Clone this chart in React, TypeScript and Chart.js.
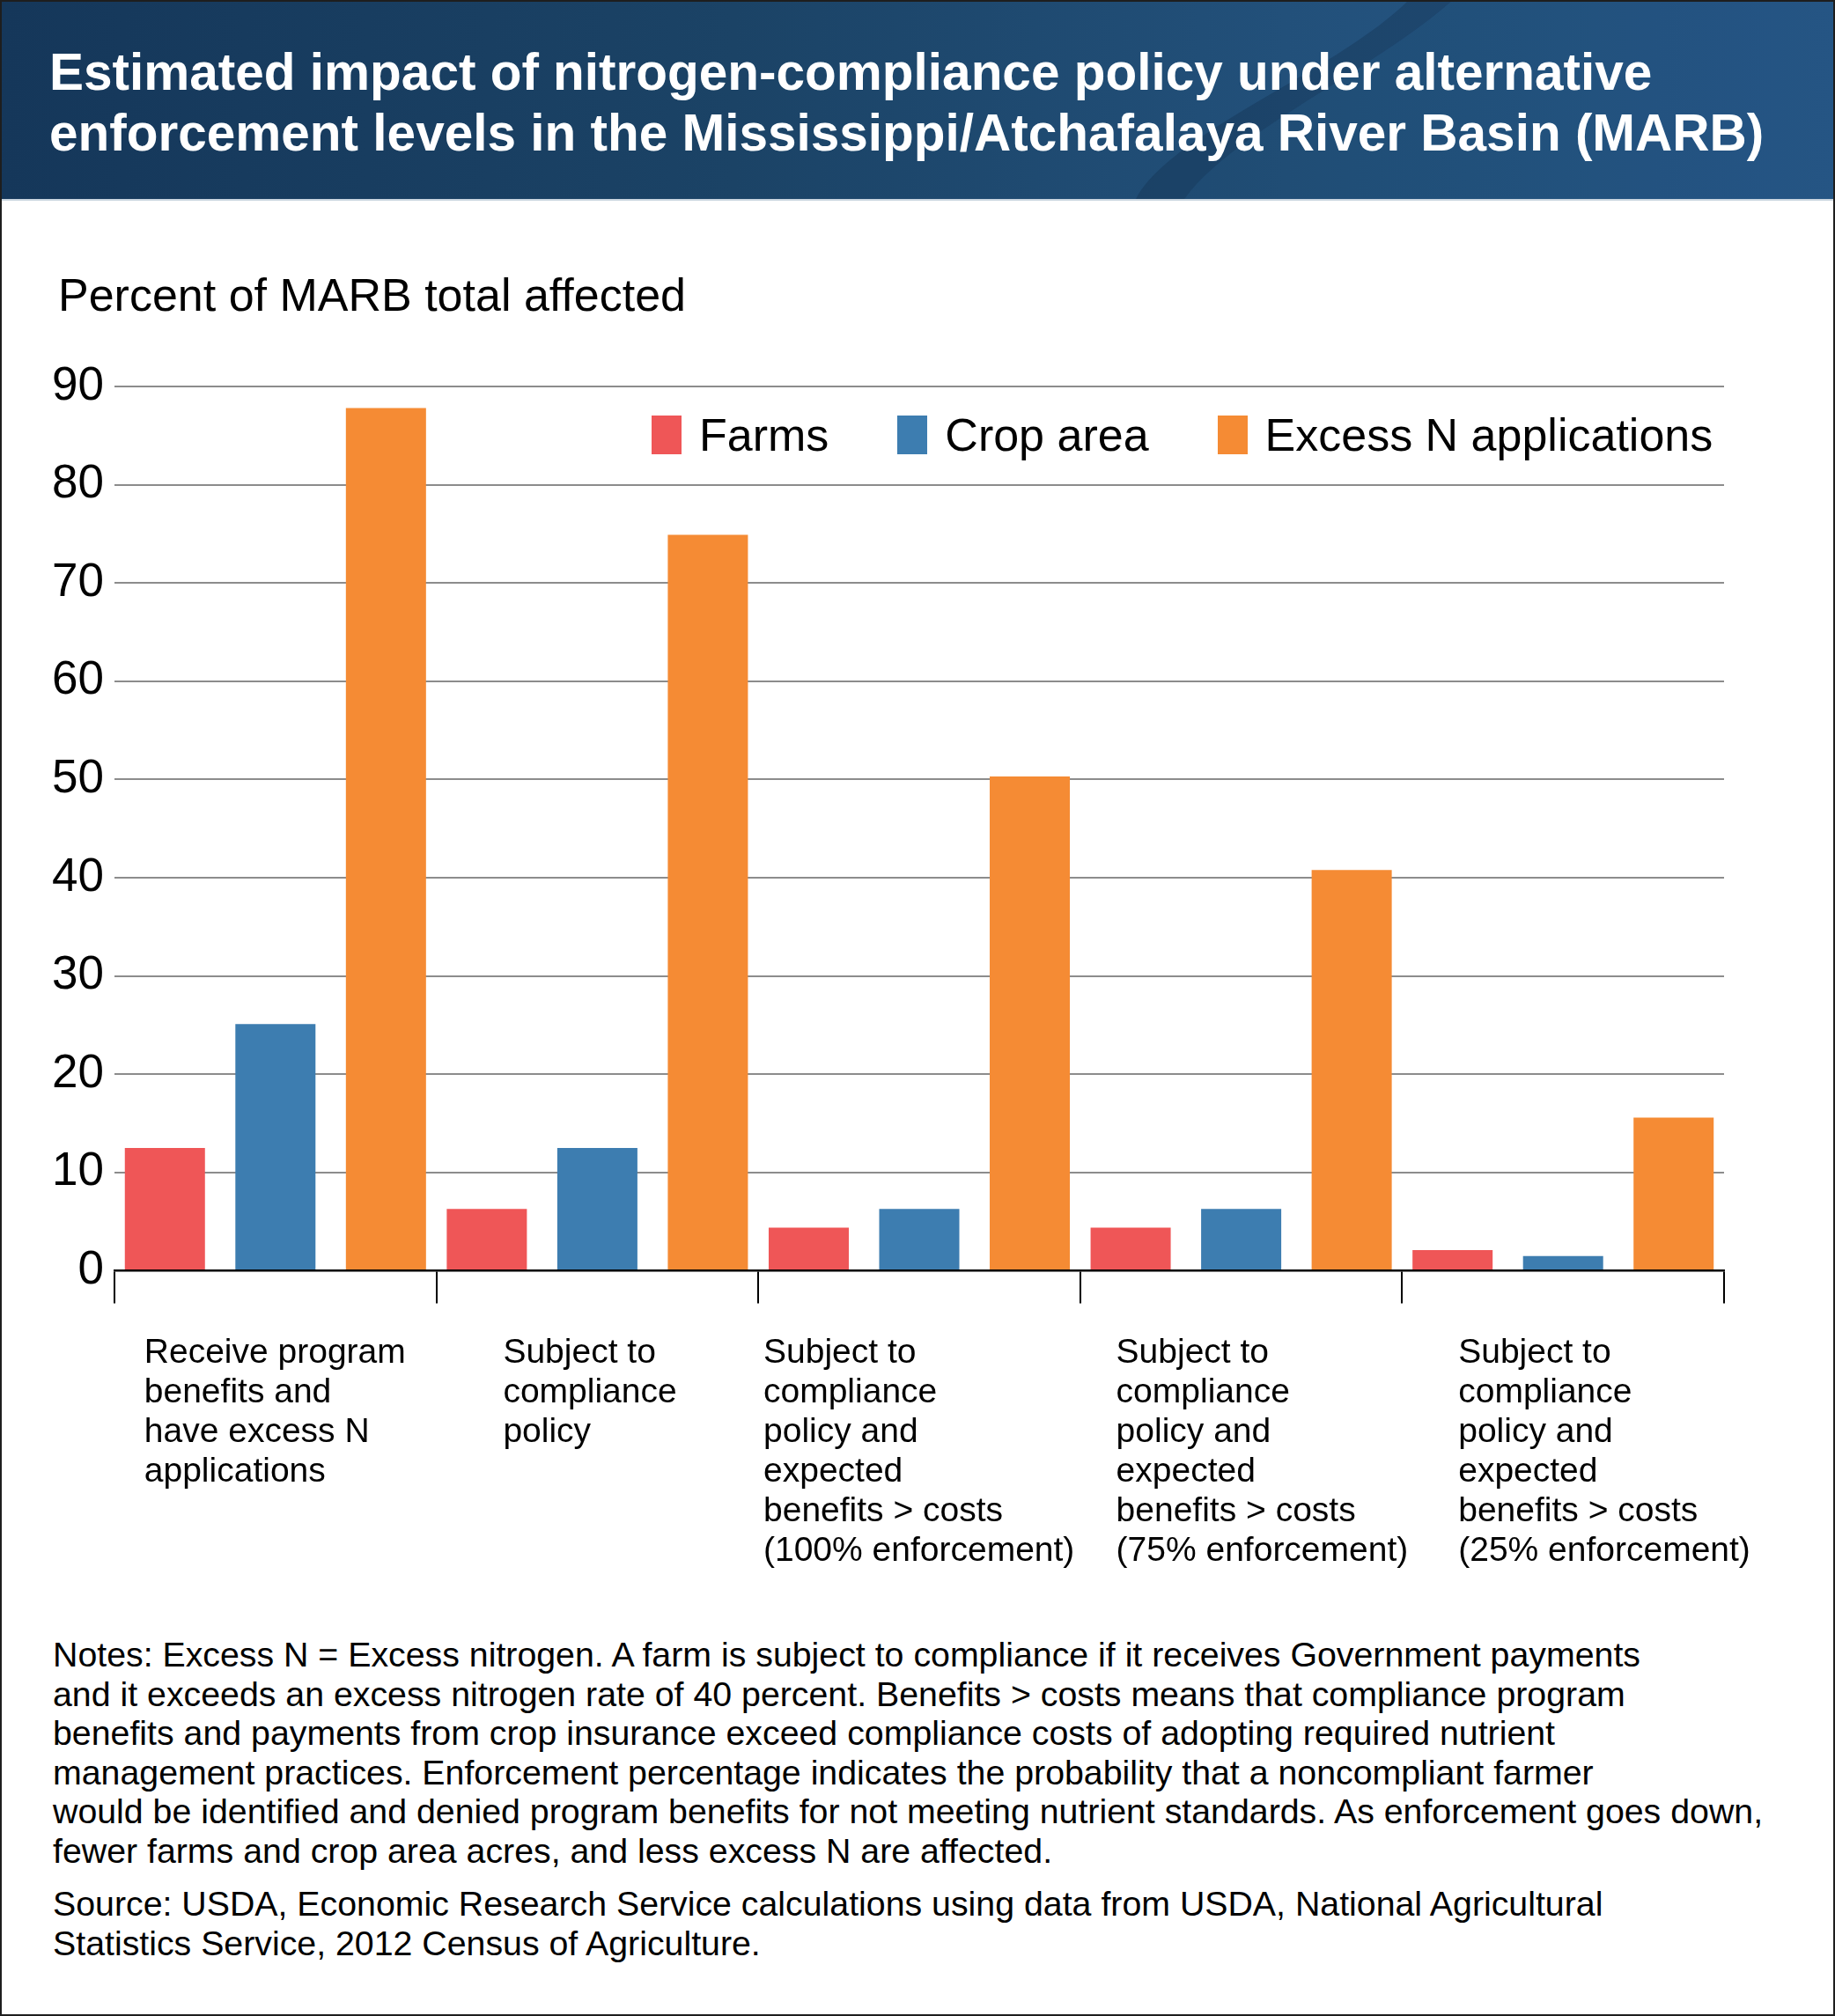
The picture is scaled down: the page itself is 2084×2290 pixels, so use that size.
import { useEffect, useRef } from "react"
import { Chart, registerables } from "chart.js"

Chart.register(...registerables)

// categories (multi-line x labels)
const categories = [
  ["Receive program", "benefits and", "have excess N", "applications"],
  ["Subject to", "compliance", "policy"],
  ["Subject to", "compliance", "policy and", "expected", "benefits > costs", "(100% enforcement)"],
  ["Subject to", "compliance", "policy and", "expected", "benefits > costs", "(75% enforcement)"],
  ["Subject to", "compliance", "policy and", "expected", "benefits > costs", "(25% enforcement)"],
]

const farms = [12.5, 6.3, 4.4, 4.4, 2.1]
const cropArea = [25.1, 12.5, 6.3, 6.3, 1.5]
const excessN = [87.8, 74.9, 50.3, 40.8, 15.6]

const seriesNames = ["Farms", "Crop area", "Excess N applications"]
const seriesColors = ["#ef5657", "#3d7db0", "#f58b34"]

const yMin = 0
const yMax = 90
const yStep = 10
const yTitle = "Percent of MARB total affected"

// small per-label nudges of the x labels (px), the original places them by hand
const labelShift = [-10, 32, -38, -3, 20]

const FONT = "'Liberation Sans', Arial, Helvetica, sans-serif"

const titleLines = [
  "Estimated impact of nitrogen-compliance policy under alternative",
  "enforcement levels in the Mississippi/Atchafalaya River Basin (MARB)",
]

const noteLines = [
  "Notes: Excess N = Excess nitrogen. A farm is subject to compliance if it receives Government payments",
  "and it exceeds an excess nitrogen rate of 40 percent. Benefits > costs means that compliance program",
  "benefits and payments from crop insurance exceed compliance costs of adopting required nutrient",
  "management practices. Enforcement percentage indicates the probability that a noncompliant farmer",
  "would be identified and denied program benefits for not meeting nutrient standards. As enforcement goes down,",
  "fewer farms and crop area acres, and less excess N are affected.",
]

const sourceLines = [
  "Source: USDA, Economic Research Service calculations using data from USDA, National Agricultural",
  "Statistics Service, 2012 Census of Agriculture.",
]

const shiftLabels = {
  id: "shiftLabels",
  afterUpdate(chart: any) {
    const sc = chart.scales?.x
    if (!sc || !sc.getLabelItems) return
    const items = sc.getLabelItems()
    items.forEach((it: any, i: number) => {
      if (it?.options?.translation) it.options.translation[0] += labelShift[i] || 0
    })
  },
}

const BarChart = () => {
  const chartRef = useRef<HTMLCanvasElement>(null)
  const chartInstance = useRef<Chart | null>(null)

  useEffect(() => {
    if (!chartRef.current) return
    if (chartInstance.current) chartInstance.current.destroy()
    const ctx = chartRef.current.getContext("2d")
    if (!ctx) return

    Chart.defaults.font.family = FONT
    Chart.defaults.color = "#000"

    const values = [farms, cropArea, excessN]

    chartInstance.current = new Chart(ctx, {
      type: "bar",
      data: {
        labels: categories,
        datasets: seriesNames.map((name, i) => ({
          label: name,
          data: values[i],
          backgroundColor: seriesColors[i],
          borderWidth: 0,
          categoryPercentage: 1.03,
          barPercentage: 0.725,
        })),
      },
      plugins: [shiftLabels],
      options: {
        animation: false,
        responsive: true,
        maintainAspectRatio: false,
        layout: { padding: { left: 0, right: 126, top: 211, bottom: 0 } },
        plugins: {
          legend: { display: false },
          tooltip: { enabled: false },
          title: { display: false },
        },
        scales: {
          x: {
            grid: {
              display: true,
              drawOnChartArea: false,
              drawTicks: true,
              tickLength: 37,
              color: "#000",
              lineWidth: 2,
              offset: true,
            },
            border: { display: true, color: "#000", width: 2.5, z: 1 },
            ticks: {
              autoSkip: false,
              maxRotation: 0,
              minRotation: 0,
              align: "start",
              labelOffset: -139,
              padding: 34,
              color: "#000",
              font: { size: 39, lineHeight: 45 / 39 },
            },
            afterFit: (s: any) => {
              s.paddingLeft = 0
              s.paddingRight = 0
              s.height = 384.5
            },
          },
          y: {
            min: yMin,
            max: yMax,
            ticks: { stepSize: yStep, padding: 12, color: "#000", font: { size: 53 } },
            grid: {
              color: (c: any) => (c.tick && c.tick.value === 0 ? "rgba(0,0,0,0)" : "#8c8c8c"),
              lineWidth: 2,
              drawTicks: false,
            },
            border: { display: false },
            afterFit: (s: any) => {
              s.width = 130
            },
          },
        },
      },
    } as any)

    return () => {
      if (chartInstance.current) {
        chartInstance.current.destroy()
        chartInstance.current = null
      }
    }
  }, [])

  return (
    <div style={{ position: "absolute", left: 0, top: 228, width: 2084, height: 1600 }}>
      <canvas ref={chartRef} />
    </div>
  )
}

const App = () => {
  return (
    <div
      style={{
        position: "absolute",
        left: 0,
        top: 0,
        width: 2084,
        height: 2290,
        background: "#fff",
        overflow: "hidden",
        fontFamily: FONT,
        color: "#000",
      }}
    >
      {/* header */}
      <div
        style={{
          position: "absolute",
          left: 0,
          top: 0,
          width: 2084,
          height: 226,
          background: "linear-gradient(90deg, #15375a 0%, #1b4366 40%, #22507a 70%, #28598a 100%)",
          overflow: "hidden",
        }}
      >
        <svg width={2084} height={226} style={{ position: "absolute", left: 0, top: 0 }}>
          <path d="M1600 0 C1520 80 1330 150 1290 226 L1345 226 C1400 150 1560 80 1650 0 Z" fill="rgba(8,28,52,0.22)" />
          <path d="M1650 0 C1560 80 1400 150 1345 226 L2084 226 L2084 0 Z" fill="rgba(8,28,52,0.06)" />
        </svg>
        <div
          style={{
            position: "absolute",
            left: 56,
            top: 47,
            fontSize: 58.5,
            lineHeight: "69px",
            fontWeight: "bold",
            color: "#fff",
            whiteSpace: "nowrap",
          }}
        >
          {titleLines.map((l, i) => (
            <div key={i}>{l}</div>
          ))}
        </div>
      </div>
      <div style={{ position: "absolute", left: 0, top: 226, width: 2084, height: 2, background: "#c9d5df" }} />

      <BarChart />

      {/* y-axis title */}
      <div
        style={{
          position: "absolute",
          left: 66,
          top: 305,
          fontSize: 52,
          lineHeight: "60px",
          whiteSpace: "nowrap",
        }}
      >
        {yTitle}
      </div>

      {/* legend */}
      <div
        style={{
          position: "absolute",
          left: 740,
          top: 472,
          height: 44,
          display: "flex",
          alignItems: "center",
          gap: 78,
          fontSize: 52,
          lineHeight: "44px",
          whiteSpace: "nowrap",
        }}
      >
        {seriesNames.map((name, i) => (
          <div key={name} style={{ display: "flex", alignItems: "center" }}>
            <div style={{ width: 34, height: 44, background: seriesColors[i], marginRight: 20 }} />
            <span>{name}</span>
          </div>
        ))}
      </div>

      {/* notes */}
      <div
        style={{
          position: "absolute",
          left: 60,
          top: 1857,
          fontSize: 39.3,
          lineHeight: "44.5px",
          whiteSpace: "nowrap",
        }}
      >
        {noteLines.map((l, i) => (
          <div key={i}>{l}</div>
        ))}
        <div style={{ marginTop: 16 }}>
          {sourceLines.map((l, i) => (
            <div key={i}>{l}</div>
          ))}
        </div>
      </div>

      <div
        style={{
          position: "absolute",
          left: 0,
          top: 0,
          width: 2084,
          height: 2290,
          boxSizing: "border-box",
          border: "2px solid #1e1e1e",
          pointerEvents: "none",
        }}
      />
    </div>
  )
}

export default App
